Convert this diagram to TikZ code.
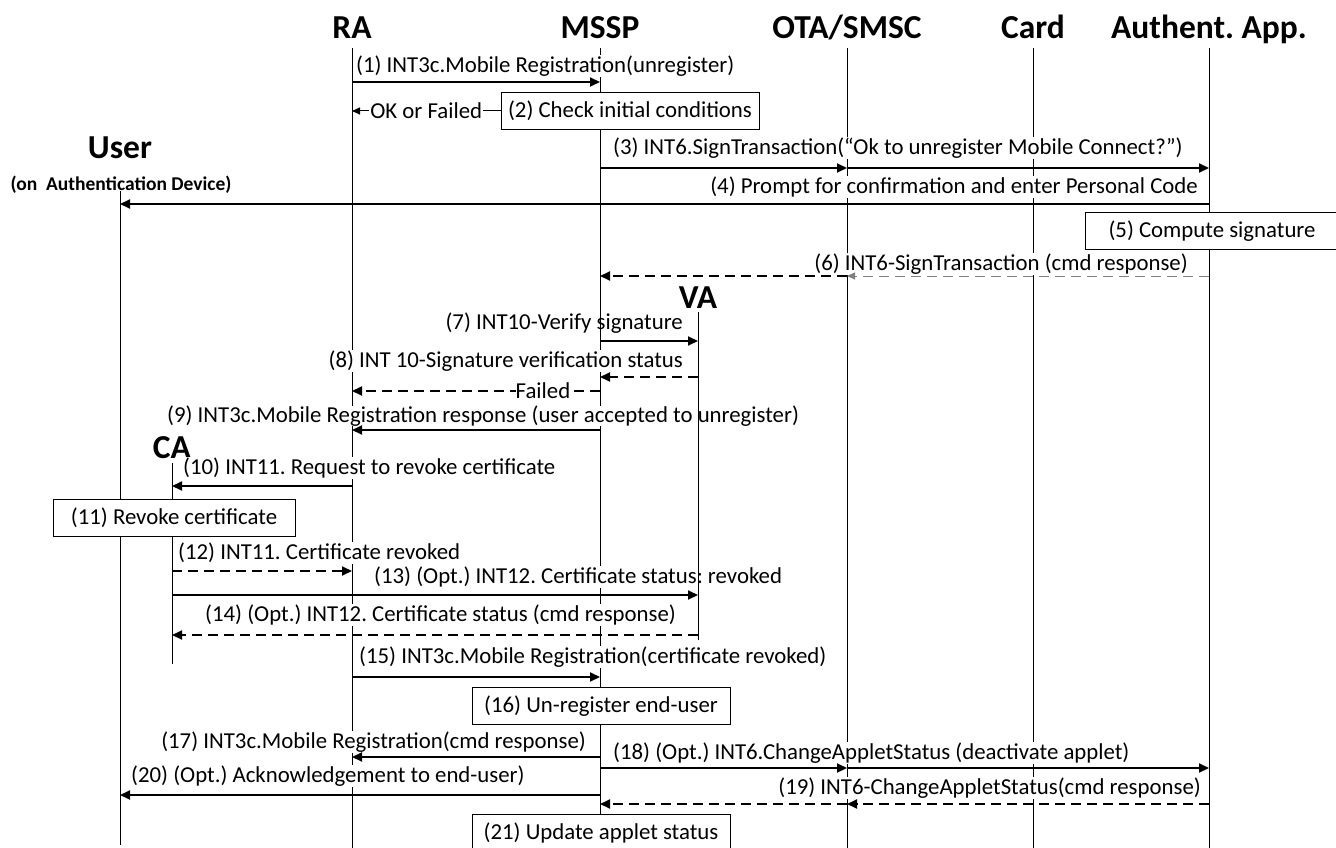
\documentclass[tikz,border=0pt]{standalone}
\usepackage{fontspec}
\setmainfont{Carlito}
\frenchspacing
\usetikzlibrary{arrows.meta}
\begin{document}
\begin{tikzpicture}[x=1pt,y=-1pt,
  actor/.style={font=\fontsize{33.5}{36}\selectfont\bfseries, inner sep=0pt, anchor=base},
  life/.style={line width=1pt},
  msg/.style={line width=2pt, -{Triangle[length=10pt,width=9pt]}},
  thinmsg/.style={line width=1pt, -{Triangle[length=8pt,width=7pt]}},
  ret/.style={msg, dash pattern=on 10pt off 6pt},
  lbl/.style={font=\fontsize{22.8}{25}\selectfont, inner sep=1pt, fill=white},
  act/.style={draw, line width=1pt, fill=white, font=\fontsize{22.8}{25}\selectfont, minimum height=37pt, inner sep=2pt},
]
\useasboundingbox (0,0) rectangle (1336,848);

% participants
\node[actor] (ra)   at (352,39)  {RA};
\node[actor] (mssp) at (600,39)  {MSSP};
\node[actor] (ota)  at (847,39)  {OTA/SMSC};
\node[actor] (card) at (1033,39) {Card};
\node[actor] (app)  at (1209,39) {Authent. App.};
\node[actor] (user) at (120,159) {User};
\node[font=\fontsize{19.5}{22}\selectfont\bfseries, inner sep=0pt] (userdev) at (121,185) {(on\ \ Authentication Device)};
\node[actor] (va)   at (698,308) {VA};
\node[actor] (ca)   at (172,458) {CA};

% lifelines
\draw[life] (ra |- 0,48)   -- (ra |- 0,848);
\draw[life] (mssp |- 0,48) -- (mssp |- 0,848);
\draw[life] (ota |- 0,48)  -- (ota |- 0,848);
\draw[life] (card |- 0,48) -- (card |- 0,848);
\draw[life] (app |- 0,48)  -- (app |- 0,848);
\draw[life] (user |- 0,191) -- (user |- 0,845);
\draw[life] (ca |- 0,463)  -- (ca |- 0,664);

% message labels
\node[lbl, anchor=west] (l1) at (355,66) {(1) INT3c.Mobile Registration(unregister)};
\node[lbl, anchor=west] (l3) at (612,148) {(3) INT6.SignTransaction(“Ok to unregister Mobile Connect?”)};
\node[lbl, anchor=east] (l4) at (1199,187) {(4) Prompt for confirmation and enter Personal Code};
\node[lbl, anchor=east] (l6) at (1189,264) {(6) INT6-SignTransaction (cmd response)};
\node[lbl, fill=none, anchor=east] (l7) at (684,323) {(7) INT10-Verify signature};
\node[lbl, anchor=east] (l8) at (684,361) {(8) INT 10-Signature verification status};
\node[lbl, anchor=west, inner sep=0pt] (l9) at (167,416) {(9) INT3c.Mobile Registration response (user accepted to unregister)};
\node[lbl, anchor=west] (l10) at (182,468) {(10) INT11. Request to revoke certificate};
\node[lbl, anchor=west] (l12) at (177,553) {(12) INT11. Certificate revoked};
\node[lbl, anchor=west] (l13) at (373,577) {(13) (Opt.) INT12. Certificate status: revoked};
\node[lbl, anchor=west] (l14) at (204,615) {(14) (Opt.) INT12. Certificate status (cmd response)};
\node[lbl, anchor=west] (l15) at (358,657) {(15) INT3c.Mobile Registration(certificate revoked)};
\node[lbl, anchor=east] (l17) at (587,742) {(17) INT3c.Mobile Registration(cmd response)};
\node[lbl, anchor=west] (l18) at (612,753) {(18) (Opt.) INT6.ChangeAppletStatus (deactivate applet)};
\node[lbl, anchor=west] (l20) at (130,776) {(20) (Opt.) Acknowledgement to end-user)};
\node[lbl, anchor=east] (l19) at (1202,788) {(19) INT6-ChangeAppletStatus(cmd response)};

% VA lifeline stays visible over the labels it crosses
\draw[life] (va |- 0,312) -- (va |- 0,640);

% activity boxes
\node[act, minimum width=258pt] (chk)   at (630,111)  {(2) Check initial conditions};
\node[act, minimum width=254pt] (sig)   at (1212,231) {(5) Compute signature};
\node[act, minimum width=242pt] (rev)   at (174,518)  {(11) Revoke certificate};
\node[act, minimum width=258pt] (unreg) at (601,706)  {(16) Un-register end-user};
\node[act, minimum width=258pt] (upd)   at (601,833)  {(21) Update applet status};

% messages
\draw[msg] (ra |- 0,82) -- (mssp |- 0,82);
\draw[thinmsg] (chk.west) -- node[lbl]{OK or Failed} (ra |- chk.west);
\draw[msg] (mssp |- 0,168) -- (ota |- 0,168);
\draw[msg] (ota |- 0,168) -- (app |- 0,168);
\draw[msg] (app |- 0,204) -- (user |- 0,204);
\draw[thinmsg, dash pattern=on 10pt off 6pt, gray] (app |- 0,276) -- (ota |- 0,276);
\draw[ret] (ota |- 0,276) -- (mssp |- 0,276);
\draw[msg] (mssp |- 0,341) -- (va |- 0,341);
\draw[ret] (va |- 0,377) -- (mssp |- 0,377);
\draw[ret] (mssp |- 0,391) -- node[lbl, inner sep=0pt, pos=0.23]{Failed} (ra |- 0,391);
\draw[msg] (mssp |- 0,430) -- (ra |- 0,430);
\draw[msg] (ra |- 0,486) -- (ca |- 0,486);
\draw[ret] (ca |- 0,571) -- (ra |- 0,571);
\draw[msg] (ca |- 0,595) -- (va |- 0,595);
\draw[ret] (va |- 0,635) -- (ca |- 0,635);
\draw[msg] (ra |- 0,677) -- (mssp |- 0,677);
\draw[msg] (mssp |- 0,757) -- (ra |- 0,757);
\draw[msg] (mssp |- 0,768) -- (ota |- 0,768);
\draw[msg] (ota |- 0,768) -- (app |- 0,768);
\draw[msg] (mssp |- 0,795) -- (user |- 0,795);
\draw[ret] (app |- 0,804) -- (ota |- 0,804);
\draw[ret] (ota |- 0,804) -- (mssp |- 0,804);
\end{tikzpicture}
\end{document}
